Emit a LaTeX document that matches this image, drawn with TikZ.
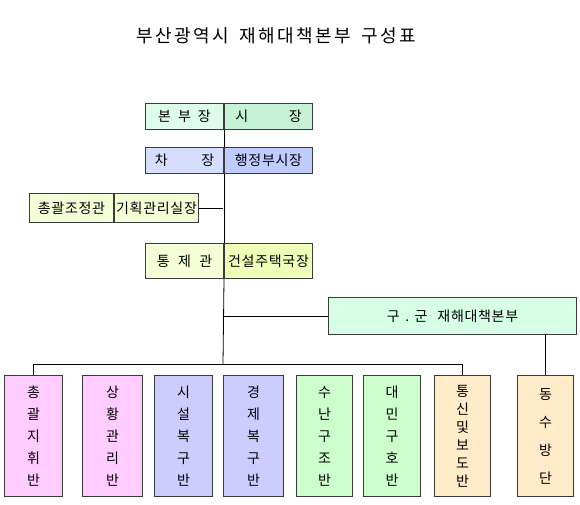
\documentclass[tikz,border=0pt]{standalone}
\usepackage{fontspec}
\newfontfamily\kor[LetterSpace=5]{Noto Sans CJK KR}
\newfontfamily\kortitle[LetterSpace=14]{Noto Sans CJK KR}
\usetikzlibrary{positioning}

\definecolor{mintL}{HTML}{DDFBEA}
\definecolor{mintD}{HTML}{C6F3D6}
\definecolor{blueL}{HTML}{D6DEFF}
\definecolor{blueD}{HTML}{BECCFF}
\definecolor{limeL}{HTML}{F5FFD7}
\definecolor{limeD}{HTML}{EEFFB8}
\definecolor{pinkB}{HTML}{FFCCFF}
\definecolor{lilacB}{HTML}{CCCCFF}
\definecolor{greenB}{HTML}{CCFFCC}
\definecolor{peachB}{HTML}{FFEBC8}
\definecolor{guB}{HTML}{D6FFE6}
\definecolor{edgeC}{HTML}{3A3A3A}

\begin{document}
\begin{tikzpicture}[
    x=1pt, y=-1pt,
    cell/.style={draw=edgeC, line width=1pt, inner sep=0pt, anchor=north west,
                 font=\kor\fontsize{14}{16}\selectfont},
    unit/.style={cell, minimum width=58pt, minimum height=121pt, align=center,
                 font=\kor\fontsize{14}{22}\selectfont},
    ln/.style={line width=0.8pt}
  ]
  \useasboundingbox (0,0) rectangle (580,505);

  \node[font=\kortitle\fontsize{18}{20}\selectfont] (title) at (276,36)
       {부산광역시\hspace{10pt}재해대책본부\hspace{10pt}구성표};

  % upper chain
  \node[cell, fill=mintL, minimum width=78pt, minimum height=26pt] (hqL) at (145,103) {본\hspace{0.5em}부\hspace{0.5em}장};
  \node[cell, fill=mintD, minimum width=88pt, minimum height=26pt, right=0pt of hqL] (hqR) {시\hspace{2.9em}장};

  \node[cell, fill=blueL, minimum width=78pt, minimum height=26pt] (depL) at (145,147) {차\hspace{2.4em}장};
  \node[cell, fill=blueD, minimum width=88pt, minimum height=26pt, right=0pt of depL] (depR) {행정부시장};

  \node[cell, fill=limeL, minimum width=84pt, minimum height=29pt] (planL) at (29,193) {총괄조정관};
  \node[cell, fill=limeL, minimum width=84pt, minimum height=29pt, right=0pt of planL] (planR) {기획관리실장};

  \node[cell, fill=limeL, minimum width=78pt, minimum height=35pt] (cmdL) at (145,243) {통\hspace{0.6em}제\hspace{0.6em}관\hspace{0.6em}};
  \node[cell, fill=limeD, minimum width=88pt, minimum height=35pt, right=0pt of cmdL] (cmdR) {건설주택국장};

  \node[cell, fill=guB, minimum width=248pt, minimum height=37pt] (gu) at (328,297) {구\hspace{0.4em}.\hspace{0.4em}군\hspace{0.7em}재해대책본부};

  \coordinate (bar) at (223,364);

  % working units
  \node[unit, fill=pinkB] (b1) at (4,375) {총\\괄\\지\\휘\\반};
  \node[unit, fill=pinkB, minimum width=60pt] (b2) at (82,375) {상\\황\\관\\리\\반};
  \node[unit, fill=lilacB] (b3) at (154,375) {시\\설\\복\\구\\반};
  \node[unit, fill=lilacB, minimum width=60pt] (b4) at (223,375) {경\\제\\복\\구\\반};
  \node[unit, fill=greenB, minimum width=56pt] (b5) at (296,375) {수\\난\\구\\조\\반};
  \node[unit, fill=greenB, minimum width=57pt] (b6) at (363,375) {대\\민\\구\\호\\반};
  \node[unit, fill=peachB, minimum width=56pt, font=\kor\fontsize{14}{18}\selectfont] (b7) at (434,375) {통\\신\\및\\보\\도\\반};
  \node[unit, fill=peachB, minimum width=56pt, font=\kor\fontsize{14}{28}\selectfont] (b8) at (517,375) {동\\수\\방\\단};

  \draw[ln] (hqL.south east) -- (depL.north east);
  \draw[ln] (depL.south east) -- (cmdL.north east);
  \draw[ln] (cmdL.south east) -- (bar);
  \draw[ln] (planR.east) -- (planR.east -| bar);
  \draw[ln] (gu.west -| bar) -- (gu.west);
  \draw[ln] (b1.north) -- (b1.north |- bar) -- (b7.north |- bar) -- (b7.north);
  \draw[ln] (gu.south -| b8.north) -- (b8.north);
\end{tikzpicture}
\end{document}
